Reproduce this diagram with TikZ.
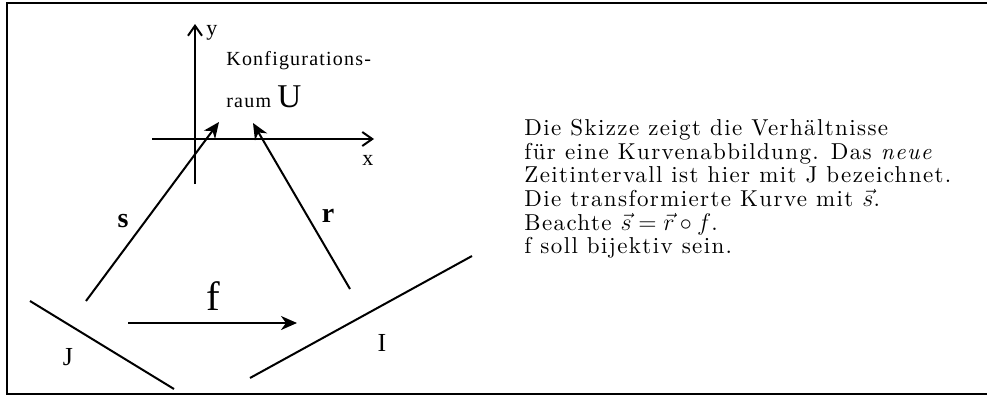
\documentclass[tikz,border=0pt]{standalone}
\usepackage{fontspec}
\newfontfamily\timesfont{Liberation Serif}[LetterSpace=6]
\newfontfamily\cmfont{lmroman10-regular.otf}[ItalicFont=lmroman10-italic.otf,LetterSpace=6]
\usepackage{amsmath,amssymb}
\usetikzlibrary{arrows.meta,positioning}
\begin{document}
\begin{tikzpicture}[x=0.5pt,y=-0.5pt,
        lbl/.style={inner sep=0pt,font=\timesfont\fontsize{10}{12}\selectfont},
        axis/.style={line width=1pt,-{Straight Barb[length=5pt,width=7pt,line width=1pt]}},
        map/.style={line width=1pt,-{Stealth[length=8pt,width=7pt,inset=2.5pt]}},
        ivl/.style={line width=1pt}]
        \useasboundingbox (0,0) rectangle (987,396);
        \draw[line width=1pt] (7,3) rectangle (1000,394);
        % Achsen
        \coordinate (y0) at (195,184);
        \coordinate (y1) at (195,24);
        \coordinate (x0) at (152,139);
        \coordinate (x1) at (374,139);
        \draw[axis] (y0) -- (y1);
        \draw[axis] (x0) -- (x1);
        \node[lbl,anchor=base west,font=\timesfont\fontsize{11}{13}\selectfont] (ly) at (206,35) {y};
        \node[lbl,anchor=base west,font=\timesfont\fontsize{11}{13}\selectfont] (lx) at (362,165) {x};
        \node[lbl,anchor=base west] (konf) at (226,65) {Konfigurations-};
        \node[lbl,anchor=base west] (raum) at (226,107) {raum};
        \node[lbl,anchor=base west,font=\timesfont\fontsize{16.6}{18}\selectfont]
          (U) at (raum.base east) {\,U};
        % Intervalle
        \coordinate (j0) at (30,301);
        \coordinate (j1) at (174,389);
        \coordinate (i0) at (250,378);
        \coordinate (i1) at (472,256);
        \draw[ivl] (j0) -- (j1);
        \draw[ivl] (i0) -- (i1);
        \node[lbl,anchor=base,font=\timesfont\fontsize{13}{15}\selectfont] (J) at (68,365) {J};
        \node[lbl,anchor=base,font=\timesfont\fontsize{13}{15}\selectfont] (I) at (382,351) {I};
        % Abbildungen
        \coordinate (s0) at (86,301);
        \coordinate (s1) at (219,122);
        \coordinate (r0) at (350,289);
        \coordinate (r1) at (253,123);
        \coordinate (f0) at (128,323);
        \coordinate (f1) at (297,323);
        \draw[map] (s0) -- (s1);
        \draw[map] (r0) -- (r1);
        \draw[map] (f0) -- (f1);
        \node[lbl,anchor=base,font=\timesfont\bfseries\fontsize{14}{16}\selectfont] (ls) at (123,227) {s};
        \node[lbl,anchor=base,font=\timesfont\bfseries\fontsize{14}{16}\selectfont] (lr) at (328,222) {r};
        \node[lbl,anchor=base,font=\timesfont\fontsize{20.5}{22}\selectfont] (lf) at (213,310) {f};
        % Erklaerung
        \node[anchor=north west,inner sep=0pt,align=left,font=\cmfont\fontsize{11.5}{11.8}\selectfont]
          (txt) at (524,119) {Die Skizze zeigt die Verh\"altnisse\\
          f\"ur eine Kurvenabbildung. Das \emph{neue}\\
          Zeitintervall ist hier mit J bezeichnet.\\
          Die transformierte Kurve mit $\vec{s}$.\\
          Beachte $\vec{s} = \vec{r} \circ f$.\\
          f soll bijektiv sein.};
      \end{tikzpicture}
\end{document}
